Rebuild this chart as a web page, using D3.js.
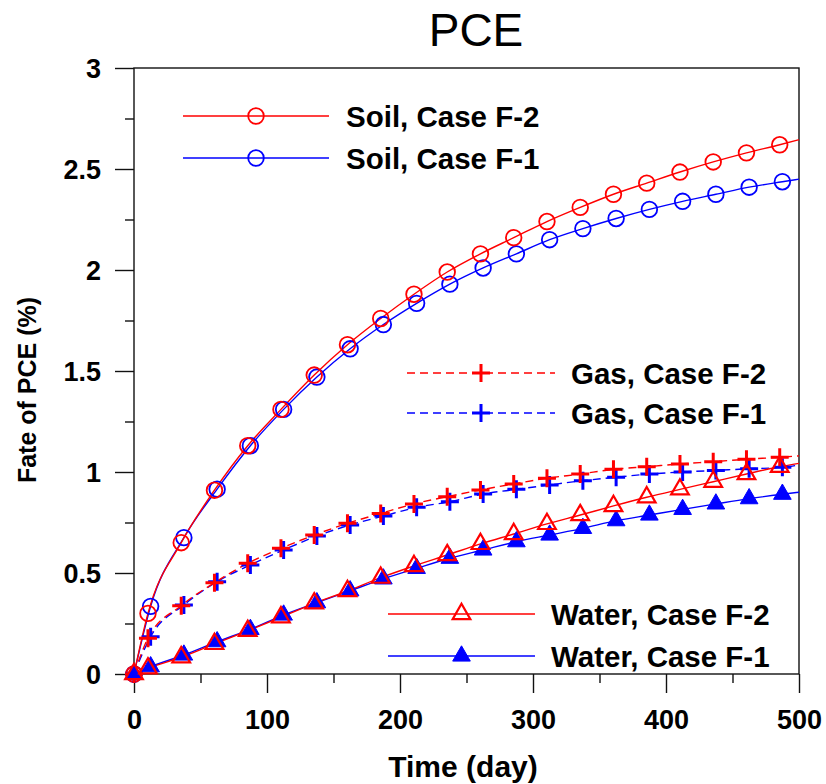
<!DOCTYPE html>
<html>
<head>
<meta charset="utf-8">
<script src="https://cdn.jsdelivr.net/npm/d3@7"></script>
<style>
  html, body { margin: 0; padding: 0; background: #fff; }
  svg text { font-family: "Liberation Sans", Arial, Helvetica, sans-serif; }
</style>
</head>
<body>
<svg id="chart" width="826" height="784"></svg>
<script>
// Sampling times (days) of the two simulation cases; the last entry is the end of the run
const timesF1 = [0, 12.5, 37.5, 62.5, 87.5, 112.5, 137.5, 162.5, 187.5, 212.5, 237.5,
                 262.5, 287.5, 312.5, 337.5, 362.5, 387.5, 412.5, 437.5, 462.5, 487.5, 500];
const timesF2 = [0, 10.5, 35.5, 60.5, 85.5, 110.5, 135.5, 160.5, 185.5, 210.5, 235.5,
                 260.5, 285.5, 310.5, 335.5, 360.5, 385.5, 410.5, 435.5, 460.5, 485.5, 500];

// Fate of PCE (%) in each compartment
const soilF2  = [0, 0.30, 0.65, 0.91, 1.13, 1.31, 1.48, 1.63, 1.76, 1.88, 1.99,
                 2.08, 2.16, 2.24, 2.31, 2.375, 2.43, 2.485, 2.535, 2.58, 2.62, 2.645];
const soilF1  = [0, 0.335, 0.675, 0.915, 1.13, 1.31, 1.47, 1.61, 1.73, 1.835, 1.93,
                 2.01, 2.08, 2.15, 2.205, 2.255, 2.30, 2.34, 2.375, 2.41, 2.437, 2.45];
const gasF2   = [0, 0.177, 0.338, 0.452, 0.548, 0.622, 0.688, 0.746, 0.795, 0.842, 0.878,
                 0.911, 0.941, 0.969, 0.99, 1.013, 1.026, 1.04, 1.051, 1.063, 1.073, 1.08];
const gasF1   = [0, 0.185, 0.342, 0.457, 0.540, 0.614, 0.683, 0.738, 0.782, 0.825, 0.853,
                 0.891, 0.914, 0.936, 0.957, 0.974, 0.99, 1.0, 1.008, 1.016, 1.023, 1.035];
const waterF2 = [0, 0.028, 0.083, 0.149, 0.214, 0.281, 0.35, 0.411, 0.477, 0.535, 0.589,
                 0.644, 0.693, 0.743, 0.787, 0.832, 0.875, 0.914, 0.952, 0.99, 1.026, 1.043];
const waterF1 = [0, 0.036, 0.094, 0.16, 0.221, 0.292, 0.353, 0.412, 0.471, 0.523, 0.573,
                 0.614, 0.655, 0.688, 0.721, 0.759, 0.787, 0.815, 0.842, 0.868, 0.89, 0.90];

const xTicks = [0, 100, 200, 300, 400, 500];
const yTicks = [0, 0.5, 1, 1.5, 2, 2.5, 3];
const yTickLabels = ["0", "0.5", "1", "1.5", "2", "2.5", "3"];

const titleText = "PCE";
const xTitle = "Time (day)";
const yTitle = "Fate of PCE (%)";

// Series definitions (drawing order: blue under red)
const series = [
  { label: "Soil, Case F-1",  t: timesF1, v: soilF1,  color: "#0000ff", marker: "circle",   dash: null },
  { label: "Soil, Case F-2",  t: timesF2, v: soilF2,  color: "#ff0000", marker: "circle",   dash: null },
  { label: "Gas, Case F-1",   t: timesF1, v: gasF1,   color: "#0000ff", marker: "plus",     dash: "8,5" },
  { label: "Gas, Case F-2",   t: timesF2, v: gasF2,   color: "#ff0000", marker: "plus",     dash: "8,5" },
  { label: "Water, Case F-1", t: timesF1, v: waterF1, color: "#0000ff", marker: "triFill",  dash: null },
  { label: "Water, Case F-2", t: timesF2, v: waterF2, color: "#ff0000", marker: "triOpen",  dash: null }
];

// Legend groups: order top to bottom within each group
const legendGroups = [
  { items: ["Soil, Case F-2", "Soil, Case F-1"],   x0: 183, x1: 329, tx: 346, y0: 116, dy: 42 },
  { items: ["Gas, Case F-2", "Gas, Case F-1"],     x0: 407, x1: 555, tx: 571, y0: 373, dy: 40 },
  { items: ["Water, Case F-2", "Water, Case F-1"], x0: 388, x1: 535, tx: 551, y0: 614, dy: 42 }
];

const svg = d3.select("#chart");
const plot = { left: 134, right: 799, top: 68, bottom: 674 };

const x = d3.scaleLinear().domain([0, 500]).range([plot.left, plot.right]);
const y = d3.scaleLinear().domain([0, 3]).range([plot.bottom, plot.top]);

const axisColor = "#111";
const majorLen = 19, minorLen = 9;

// Frame
svg.append("rect")
  .attr("x", plot.left).attr("y", plot.top)
  .attr("width", plot.right - plot.left).attr("height", plot.bottom - plot.top)
  .attr("fill", "none").attr("stroke", axisColor).attr("stroke-width", 1.4);

// Y axis: major ticks with labels, minor ticks without
const yAxis = d3.axisLeft(y).tickValues(yTicks)
  .tickFormat((d, i) => yTickLabels[i]).tickSize(majorLen).tickSizeOuter(0).tickPadding(14);
const gy = svg.append("g").attr("transform", `translate(${plot.left},0)`).call(yAxis);
const yMinor = d3.axisLeft(y).tickValues(d3.range(0.25, 3, 0.5)).tickFormat("").tickSize(minorLen).tickSizeOuter(0);
const gyMinor = svg.append("g").attr("transform", `translate(${plot.left},0)`).call(yMinor);

// X axis
const xAxis = d3.axisBottom(x).tickValues(xTicks).tickFormat(d3.format("d"))
  .tickSize(majorLen).tickSizeOuter(0).tickPadding(16);
const gx = svg.append("g").attr("transform", `translate(0,${plot.bottom})`).call(xAxis);
const xMinor = d3.axisBottom(x).tickValues(d3.range(50, 500, 100)).tickFormat("").tickSize(minorLen).tickSizeOuter(0);
const gxMinor = svg.append("g").attr("transform", `translate(0,${plot.bottom})`).call(xMinor);

[gy, gyMinor, gx, gxMinor].forEach(g => {
  g.select(".domain").remove();
  g.selectAll("line").attr("stroke", axisColor).attr("stroke-width", 1.4);
  g.selectAll("text")
    .attr("fill", "#000")
    .style("font-family", "'Liberation Sans', Arial, sans-serif")
    .style("font-size", "27px").style("font-weight", "bold");
});
gy.selectAll("text").attr("dy", "0.36em");
gx.selectAll("text").attr("dy", "0.74em");

// Title and axis titles
svg.append("text").attr("x", 476).attr("y", 46).attr("text-anchor", "middle")
  .style("font-size", "46px").text(titleText);
svg.append("text").attr("x", 463).attr("y", 777).attr("text-anchor", "middle")
  .style("font-size", "30px").style("font-weight", "bold").text(xTitle);
svg.append("text").attr("transform", "translate(36,390) rotate(-90)").attr("text-anchor", "middle")
  .style("font-size", "25px").style("font-weight", "bold").text(yTitle);

// Marker drawing
const triPath = d3.symbol().type(d3.symbolTriangle).size(135)();
function drawMarker(sel, type, color) {
  if (type === "circle") {
    sel.append("circle").attr("r", 7.8).attr("fill", "none")
      .attr("stroke", color).attr("stroke-width", 1.8);
  } else if (type === "plus") {
    sel.append("path").attr("d", "M-9,0H9M0,-9V9").attr("fill", "none")
      .attr("stroke", color).attr("stroke-width", 3);
  } else if (type === "triFill") {
    sel.append("path").attr("d", triPath).attr("fill", color).attr("stroke", color).attr("stroke-width", 1);
  } else if (type === "triOpen") {
    sel.append("path").attr("d", triPath).attr("fill", "none").attr("stroke", color).attr("stroke-width", 2.2);
  }
}

const line = d3.line().x(d => x(d.t)).y(d => y(d.v)).curve(d3.curveMonotoneX);

const gData = svg.append("g");
series.forEach(s => {
  const pts = s.t.map((t, i) => ({ t, v: s.v[i] }));
  gData.append("path").datum(pts)
    .attr("d", line).attr("fill", "none")
    .attr("stroke", s.color).attr("stroke-width", 1.4)
    .attr("stroke-dasharray", s.dash);
});
series.forEach(s => {
  const pts = s.t.map((t, i) => ({ t, v: s.v[i] })).filter(d => d.t < 500);
  gData.selectAll(null).data(pts).enter().append("g")
    .attr("transform", d => `translate(${x(d.t)},${y(d.v)})`)
    .each(function () { drawMarker(d3.select(this), s.marker, s.color); });
});

// Legends
legendGroups.forEach(g => {
  g.items.forEach((label, i) => {
    const s = series.find(d => d.label === label);
    const yy = g.y0 + i * g.dy;
    const lg = svg.append("g");
    lg.append("line").attr("x1", g.x0).attr("x2", g.x1).attr("y1", yy).attr("y2", yy)
      .attr("stroke", s.color).attr("stroke-width", 1.4).attr("stroke-dasharray", s.dash);
    const m = lg.append("g").attr("transform", `translate(${(g.x0 + g.x1) / 2},${yy})`);
    drawMarker(m, s.marker, s.color);
    lg.append("text").attr("x", g.tx).attr("y", yy).attr("dy", "0.36em")
      .style("font-size", "29.5px").style("font-weight", "bold").text(label);
  });
});
</script>
</body>
</html>
